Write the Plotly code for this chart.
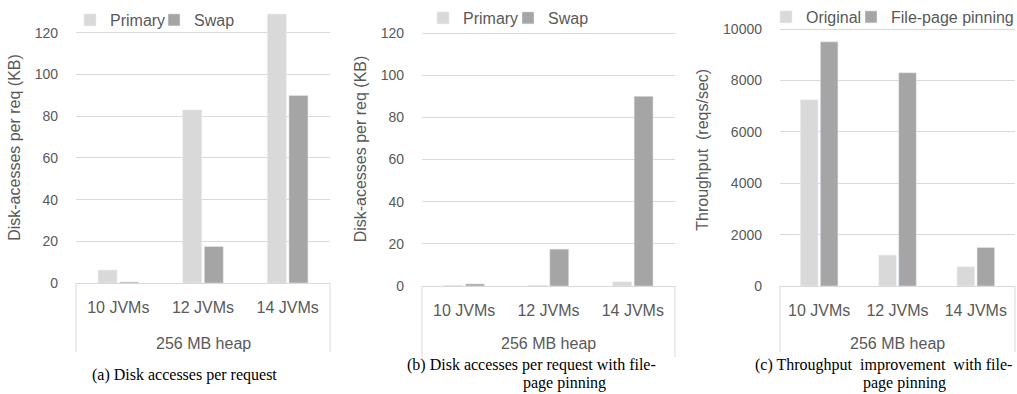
import plotly.graph_objects as go

categories = ["10 JVMs", "12 JVMs", "14 JVMs"]
group_label = "256 MB heap"

a_primary = [6.2, 83, 129]
a_swap = [0.5, 17.5, 90]
b_primary = [0.4, 0.4, 2]
b_swap = [1, 17.5, 90]
c_original = [7250, 1200, 750]
c_pinning = [9500, 8300, 1500]

LIGHT = "#d9d9d9"
DARK = "#a5a5a5"
TXT = "#595959"
SANS = "Liberation Sans, Arial, sans-serif"
SERIF = "Liberation Serif, Times New Roman, serif"
W, H = 1017, 394

def px(x):
    return x / W

def py(y):
    return 1 - y / H

fig = go.Figure()
fig.add_trace(go.Bar(x=categories, y=a_primary, name="Primary", marker_color=LIGHT, xaxis="x", yaxis="y", legend="legend", legendwidth=39))
fig.add_trace(go.Bar(x=categories, y=a_swap, name="Swap", marker_color=DARK, xaxis="x", yaxis="y", legend="legend"))
fig.add_trace(go.Bar(x=categories, y=b_primary, name="Primary", marker_color=LIGHT, xaxis="x2", yaxis="y2", legend="legend2", legendwidth=40))
fig.add_trace(go.Bar(x=categories, y=b_swap, name="Swap", marker_color=DARK, xaxis="x2", yaxis="y2", legend="legend2"))
fig.add_trace(go.Bar(x=categories, y=c_original, name="Original", marker_color=LIGHT, xaxis="x3", yaxis="y3", legend="legend3", legendwidth=40))
fig.add_trace(go.Bar(x=categories, y=c_pinning, name="File-page pinning", marker_color=DARK, xaxis="x3", yaxis="y3", legend="legend3"))

panels = [
    # (xdom px, ydom px, yrange, dtick, title, frame bottom)
    ((76, 330), (12, 283), [0, 130], 20, "Disk-acesses per req (KB)", 352),
    ((422, 675), (12, 286), [0, 130], 20, "Disk-acesses per req (KB)", 357),
    ((780, 1015), (13.6, 286), [0, 10600], 2000, "Throughput  (reqs/sec)", 352),
]

layout = dict(
    width=W, height=H,
    margin=dict(l=0, r=0, t=0, b=0, autoexpand=False),
    paper_bgcolor="white", plot_bgcolor="white",
    barmode="group", bargap=0.49, bargroupgap=0.12,
    font=dict(family=SANS, color=TXT, size=14),
    shapes=[], annotations=[],
)

for i, (xd, yd, yr, dt, title, fb) in enumerate(panels):
    sfx = "" if i == 0 else str(i + 1)
    layout["xaxis" + sfx] = dict(
        domain=[px(xd[0]), px(xd[1])], anchor="y" + sfx,
        showgrid=False, showline=True, linecolor=LIGHT, linewidth=1,
        ticks="", tickfont=dict(size=16, color=TXT), ticklabelstandoff=10,
        fixedrange=True, automargin=False,
    )
    layout["yaxis" + sfx] = dict(
        domain=[py(yd[1]), py(yd[0])], anchor="x" + sfx,
        range=yr, dtick=dt, tick0=0, tickformat="d",
        showgrid=True, gridcolor=LIGHT, gridwidth=1, zeroline=False,
        showline=False, ticks="", tickfont=dict(size=14, color=TXT),
        ticklabelstandoff=17, automargin=False,
        title=dict(text=title, font=dict(size=16, color=TXT), standoff=10),
    )
    xr = "x" + sfx + " domain"
    for xv in (0, 1):
        layout["shapes"].append(dict(type="line", xref=xr, yref="paper", x0=xv, x1=xv,
                                     y0=py(yd[1]), y1=py(fb), line=dict(color=LIGHT, width=1)))
    layout["annotations"].append(dict(text=group_label, xref=xr, yref="paper", x=0.5, y=py(343),
                                      showarrow=False, xanchor="center", yanchor="middle",
                                      font=dict(size=16, color=TXT)))

legend_pos = [(70, 3), (423, 1), (766, 0)]
for i, (lx, ly) in enumerate(legend_pos):
    key = "legend" if i == 0 else "legend" + str(i + 1)
    layout[key] = dict(orientation="h", x=px(lx), y=py(ly), xanchor="left", yanchor="top",
                       bgcolor="rgba(0,0,0,0)", font=dict(size=16, color=TXT),
                       itemclick=False, itemdoubleclick=False, tracegroupgap=0)

captions = [
    ("(a) Disk accesses per request", 184, 375),
    ("(b) Disk accesses per request with file-", 531, 365),
    ("page pinning", 564, 383),
    ("(c) Throughput  improvement  with file-", 883, 365),
    ("page pinning", 904, 383),
]
for text, cx, cy in captions:
    layout["annotations"].append(dict(text=text, xref="paper", yref="paper", x=px(cx), y=py(cy),
                                      showarrow=False, xanchor="center", yanchor="middle",
                                      font=dict(family=SERIF, size=16, color="black")))

fig.update_layout(**layout)
fig.write_html("out.html", config={"displayModeBar": False},
               post_script="document.body.style.margin='0';document.body.style.overflow='hidden';")
